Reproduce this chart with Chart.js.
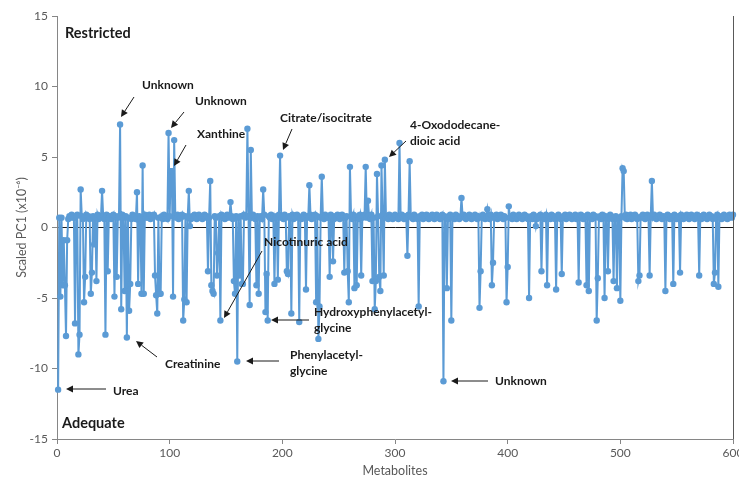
<!DOCTYPE html>
<html>
<head>
<meta charset="utf-8">
<script src="https://cdn.jsdelivr.net/npm/chart.js@4.4.1/dist/chart.umd.min.js"></script>
<style>
  html, body { margin: 0; padding: 0; background: #ffffff; }
  #wrap { width: 739px; height: 482px; position: relative; }
</style>
</head>
<body>
<div id="wrap"><canvas id="c" width="739" height="482"></canvas></div>
<script>
// ---- Data ----
const xAxisTitle = 'Metabolites';
const yAxisTitle = 'Scaled PC1 (x10\u207B\u2076)';
const yTickValues = [-15, -10, -5, 0, 5, 10, 15];
const xTickValues = [0, 100, 200, 300, 400, 500, 600];

// metabolite index 1..600, scaled PC1 loading (x10^-6)
const pc1Values = [
  -11.5,0.7,-4.9,0.7,-4.1,-0.9,-4.1,-7.7,-0.9,0.6,0.8,0.7,0.9,0.8,0.7,-6.8,0.8,0.9,-9.0,-7.6,
  2.7,0.8,0.6,-5.3,-3.5,0.9,0.7,0.8,0.6,-4.7,-3.2,0.8,-1.2,0.7,-3.8,0.9,0.6,0.8,0.7,2.6,
  0.8,0.6,-7.6,0.9,-3.1,0.7,0.8,0.6,0.7,0.9,-4.9,0.8,-3.5,0.7,0.8,7.3,-5.8,0.9,0.7,-4.5,
  0.8,-7.8,0.7,-5.9,-4.0,0.6,0.9,0.7,0.8,0.6,2.5,-4.0,0.8,0.7,-4.7,4.4,-4.7,0.9,0.7,0.8,
  0.7,0.9,0.6,0.8,0.7,0.9,-3.4,-4.8,-6.1,0.7,-4.7,-4.7,0.8,0.6,0.9,0.7,0.8,0.6,6.7,0.8,
  4.0,4.0,-4.9,6.2,0.8,0.7,0.9,0.6,0.8,0.7,0.9,-6.6,-5.1,0.8,-5.3,0.7,2.6,0.1,0.6,0.8,
  0.7,0.9,0.8,0.6,0.7,0.9,0.8,0.7,0.6,0.8,0.9,0.7,0.8,-3.1,0.7,3.3,-4.1,-4.5,-4.7,0.8,
  0.7,-3.4,-1.8,0.8,-6.6,0.9,0.7,0.8,0.6,0.7,0.9,0.8,0.7,1.8,0.8,0.6,-3.8,-4.7,0.8,-9.5,
  0.7,-3.4,0.8,-4.0,-4.0,0.9,0.7,0.8,7.0,0.8,-5.5,5.5,0.7,0.9,0.8,0.6,-4.1,0.8,-4.7,0.7,
  0.8,0.6,2.7,0.9,-6.0,-3.3,-6.6,0.8,0.7,0.9,0.6,0.8,-4.0,0.7,0.8,-3.7,0.9,5.1,0.7,0.8,
  0.6,0.9,0.7,-3.1,-3.3,0.8,0.7,-6.1,0.9,0.6,0.8,0.7,0.9,0.8,-6.7,0.7,0.6,0.8,0.9,0.7,
  -4.4,0.8,0.7,3.0,0.9,0.6,0.8,0.7,0.9,-5.3,0.8,-7.9,-5.6,0.7,3.6,0.8,0.6,0.9,0.7,0.8,
  0.7,-3.5,0.9,0.8,-2.4,0.6,0.8,0.7,0.9,0.8,0.6,0.7,0.9,0.8,-3.2,0.7,0.8,-3.1,-5.3,4.3,
  0.8,0.6,0.9,-4.3,0.7,-4.1,0.8,0.6,0.9,-3.4,0.7,0.8,0.9,4.3,0.7,1.9,0.8,0.6,0.9,-3.8,
  0.7,-5.8,-3.8,3.8,0.8,-3.5,-4.5,4.4,0.9,-3.4,4.8,0.7,0.8,0.6,0.9,0.7,0.8,0.6,0.7,0.9,
  0.8,0.7,0.6,6.0,0.8,0.9,0.7,0.6,0.8,0.7,-2.0,0.9,4.7,0.8,0.7,0.6,0.9,0.8,0.7,0.6,
  -5.6,0.8,0.7,0.9,0.6,0.8,0.7,0.9,0.8,0.6,0.7,0.8,0.9,0.7,0.6,0.8,0.9,0.7,0.8,0.6,
  0.7,0.9,-10.9,0.8,0.7,-4.3,0.6,0.8,0.9,-6.6,0.7,0.8,0.6,0.9,0.7,0.8,0.6,0.7,2.1,0.8,
  0.9,0.7,0.6,0.8,0.7,0.9,0.8,0.6,0.7,0.8,0.9,0.7,0.6,0.8,-5.7,-3.1,0.7,0.9,0.8,0.6,
  0.7,1.3,0.8,0.6,0.9,-4.1,-2.5,0.7,0.8,0.9,0.6,0.7,0.8,0.9,0.7,0.6,0.8,0.7,-5.3,-2.8,
  1.5,0.7,0.8,0.6,0.9,0.7,0.8,0.6,0.7,0.9,0.8,0.7,0.6,0.8,0.9,0.7,0.8,0.6,-5.0,0.7,
  0.8,0.6,0.9,0.7,0.1,0.6,0.8,0.7,0.9,-3.1,0.7,0.8,0.6,0.9,-4.1,0.7,0.8,0.6,0.9,0.7,
  0.8,0.6,-4.4,0.7,0.9,0.8,0.6,-3.3,0.7,0.8,0.9,0.6,0.7,0.8,0.9,0.7,0.6,0.8,0.7,0.9,
  0.6,0.8,-3.9,0.7,0.9,0.8,0.6,0.7,0.8,-4.1,0.9,-4.5,0.7,0.8,0.6,0.9,0.7,0.8,-6.6,-3.6,
  0.7,0.8,0.6,0.9,0.7,-5.0,0.8,0.6,-3.1,0.7,0.9,0.8,0.6,-3.8,0.7,0.8,-4.3,0.6,0.7,-5.2,
  0.8,4.2,4.0,0.7,0.9,0.6,0.8,0.7,0.9,0.6,0.8,0.7,0.9,0.8,0.6,-3.8,-3.4,0.7,0.8,0.9,
  0.7,0.6,0.8,0.9,0.7,-3.4,0.8,3.3,0.7,0.9,0.8,0.6,0.7,0.8,0.9,0.7,0.6,0.8,0.7,-4.5,
  0.8,0.9,0.7,0.6,0.8,0.7,-4.0,0.9,0.8,0.6,0.7,0.8,-3.2,0.9,0.7,0.6,0.8,0.7,0.9,0.8,
  0.6,0.7,0.9,0.8,0.7,0.6,0.8,0.9,0.7,-3.4,0.8,0.6,0.7,0.9,0.8,0.7,0.6,0.8,0.9,0.7,
  0.8,0.6,-4.0,-3.2,0.7,0.9,-4.2,0.8,0.7,0.6,0.8,0.9,0.7,0.8,0.6,0.7,0.9,0.8,0.7,0.9
];

// group labels and metabolite annotations
const groupLabels = ['Restricted', 'Adequate'];
const annotationTexts = [
  ['Unknown'], ['Unknown'], ['Xanthine'], ['Citrate/isocitrate'],
  ['4-Oxododecane-', 'dioic acid'], ['Nicotinuric acid'],
  ['Hydroxyphenylacetyl-', 'glycine'], ['Creatinine'],
  ['Phenylacetyl-', 'glycine'], ['Urea'], ['Unknown']
];

// ---- Layout of the annotations (canvas pixels) ----
const groupLabelPos = [[65, 33], [62, 423]];
const annotationLayout = [
  { tx: 142, ty: 85,  a: [134, 97, 121, 117] },
  { tx: 195, ty: 101, a: [184, 112, 171, 128] },
  { tx: 197, ty: 134, a: [186, 145, 174, 166] },
  { tx: 280, ty: 118, a: [292, 129, 283, 150] },
  { tx: 410, ty: 125, a: [406, 141, 389, 157] },
  { tx: 264, ty: 242, a: [262, 251, 224, 318] },
  { tx: 314, ty: 312, a: [309, 320, 271, 320] },
  { tx: 165, ty: 364, a: [157, 357, 136, 341] },
  { tx: 290, ty: 355, a: [279, 361, 246, 361] },
  { tx: 113, ty: 391, a: [106, 389, 66, 389] },
  { tx: 495, ty: 381, a: [488, 381, 451, 381] }
];

const FONT = 'Lato, "Open Sans", "Liberation Sans", sans-serif';
const points = pc1Values.map((v, i) => ({ x: i + 1, y: v }));

const annotationPlugin = {
  id: 'annot',
  afterDatasetsDraw(chart) {
    const ctx = chart.ctx;
    const ca = chart.chartArea;
    ctx.save();
    // right frame line
    ctx.strokeStyle = '#595959';
    ctx.lineWidth = 1;
    ctx.beginPath();
    ctx.moveTo(Math.round(ca.right) + 0.5, ca.top);
    ctx.lineTo(Math.round(ca.right) + 0.5, ca.bottom);
    ctx.stroke();

    ctx.fillStyle = '#1a1a1a';
    ctx.textBaseline = 'middle';
    ctx.textAlign = 'left';
    ctx.font = 'bold 14.5px ' + FONT;
    groupLabels.forEach((t, i) => ctx.fillText(t, groupLabelPos[i][0], groupLabelPos[i][1]));

    ctx.font = 'bold 12px ' + FONT;
    annotationTexts.forEach((lines, i) => {
      const L = annotationLayout[i];
      lines.forEach((ln, j) => ctx.fillText(ln, L.tx, L.ty + j * 16));
      const [x1, y1, x2, y2] = L.a;
      const ang = Math.atan2(y2 - y1, x2 - x1);
      const hl = 7, hw = 3.5;
      const bx = x2 - hl * Math.cos(ang), by = y2 - hl * Math.sin(ang);
      ctx.strokeStyle = '#1a1a1a';
      ctx.lineWidth = 1;
      ctx.beginPath();
      ctx.moveTo(x1, y1);
      ctx.lineTo(bx, by);
      ctx.stroke();
      ctx.beginPath();
      ctx.moveTo(x2, y2);
      ctx.lineTo(bx + hw * Math.sin(ang), by - hw * Math.cos(ang));
      ctx.lineTo(bx - hw * Math.sin(ang), by + hw * Math.cos(ang));
      ctx.closePath();
      ctx.fill();
    });
    ctx.restore();
  }
};

new Chart(document.getElementById('c'), {
  type: 'line',
  data: {
    datasets: [{
      data: points,
      borderColor: '#5B9BD5',
      backgroundColor: '#5B9BD5',
      borderWidth: 2,
      pointRadius: 3.2,
      pointBorderWidth: 0,
      pointBackgroundColor: '#5B9BD5',
      tension: 0,
      clip: false
    }]
  },
  options: {
    responsive: false,
    devicePixelRatio: 1,
    animation: false,
    layout: { padding: { top: 16, right: 6, left: 0, bottom: 0 } },
    plugins: { legend: { display: false }, tooltip: { enabled: false } },
    scales: {
      x: {
        type: 'linear',
        min: 0, max: 600,
        afterBuildTicks: (s) => { s.ticks = xTickValues.map(v => ({ value: v })); },
        afterFit: (s) => { s.height = 43; s.paddingLeft = 0; s.paddingRight = 0; },
        border: { color: '#868686', width: 1 },
        grid: { drawOnChartArea: false, color: '#868686', tickLength: 5 },
        ticks: { color: '#595959', font: { family: FONT, size: 12 }, padding: 2, maxRotation: 0 },
        title: { display: true, text: xAxisTitle, color: '#595959', font: { family: FONT, size: 12.5 }, padding: { top: 0, bottom: 4 } }
      },
      y: {
        min: -15, max: 15,
        afterBuildTicks: (s) => { s.ticks = yTickValues.map(v => ({ value: v })); },
        afterFit: (s) => { s.width = 57; s.paddingTop = 0; s.paddingBottom = 0; },
        border: { color: '#868686', width: 1 },
        grid: {
          drawOnChartArea: true,
          color: (c) => (c.tick && c.tick.value === 0) ? '#1a1a1a' : 'rgba(0,0,0,0)',
          tickColor: '#868686',
          tickLength: 5
        },
        ticks: { color: '#595959', font: { family: FONT, size: 12 }, padding: 4 },
        title: { display: true, text: yAxisTitle, color: '#595959', font: { family: FONT, size: 12.5 }, padding: { top: 14, bottom: 0 } }
      }
    }
  },
  plugins: [annotationPlugin]
});
</script>
</body>
</html>
